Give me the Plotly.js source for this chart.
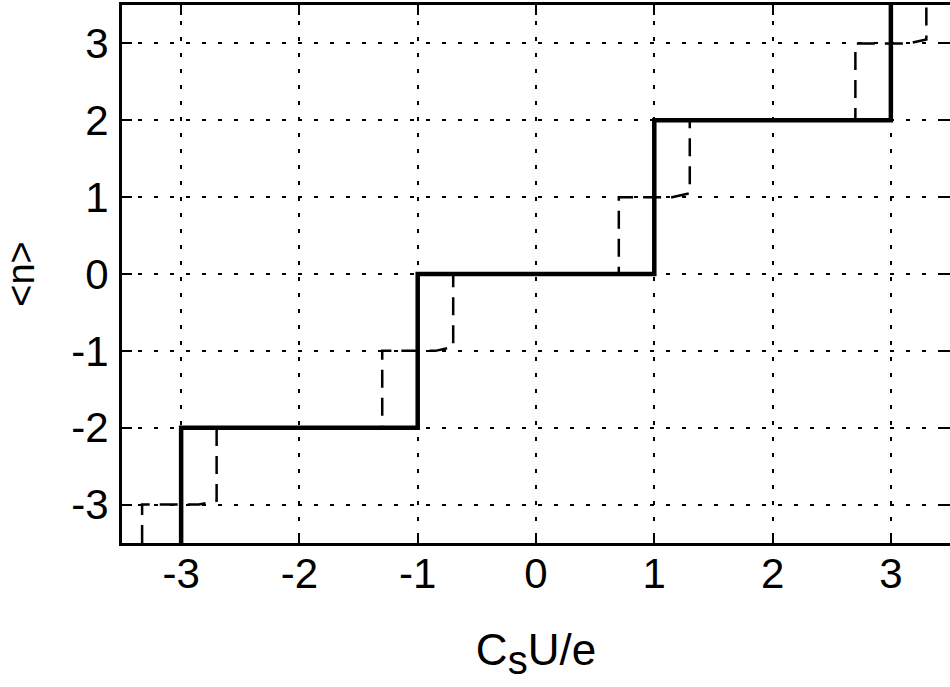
<!DOCTYPE html>
<html>
<head>
<meta charset="utf-8">
<script src="https://cdn.plot.ly/plotly-3.0.1.min.js"></script>
<style>html,body{margin:0;padding:0;background:#fff}#chart{width:950px;height:687px}</style>
</head>
<body>
<div id="chart"></div>
<script>
// Solid staircase (steps of 2 at odd values)
var solidX = [-3, -3, -1, -1, 1, 1, 3, 3];
var solidY = [-3.5, -2, -2, 0, 0, 2, 2, 3.5];
// Dashed staircase (steps of 1)
var dashedX = [-3.33, -3.33, -2.85, -2.7, -2.7, -1.3, -1.3, -0.85, -0.7, -0.7, 0.7, 0.7, 1.15, 1.3, 1.3, 2.7, 2.7, 3.15, 3.3, 3.3];
var dashedY = [-3.5, -3, -3, -2.95, -2, -2, -1, -1, -0.95, 0, 0, 1, 1, 1.05, 2, 2, 3, 3, 3.05, 3.5];
var tickVals = [-3, -2, -1, 0, 1, 2, 3];
var tickText = ['-3', '-2', '-1', '0', '1', '2', '3'];

var traces = [
  {x: dashedX, y: dashedY, mode: 'lines', line: {color: '#000', width: 2.5, dash: '18px,10px'}, hoverinfo: 'skip'},
  {x: solidX, y: solidY, mode: 'lines', line: {color: '#000', width: 4.5}, hoverinfo: 'skip'}
];

var axisCommon = {
  tickmode: 'array', tickvals: tickVals, ticktext: tickText,
  ticks: 'inside', ticklen: 10, tickwidth: 2, tickcolor: '#000',
  showline: true, linewidth: 3, linecolor: '#000', mirror: 'ticks',
  showgrid: true, gridcolor: '#000', gridwidth: 2, griddash: '4px,12px',
  zeroline: false, fixedrange: true,
  tickfont: {family: 'Liberation Sans, Arial, sans-serif', size: 42, color: '#000'}
};

var layout = {
  width: 950, height: 687,
  margin: {l: 122, r: 0, t: 5, b: 144},
  paper_bgcolor: '#fff', plot_bgcolor: '#fff',
  showlegend: false,
  font: {family: 'Liberation Sans, Arial, sans-serif', color: '#000'},
  xaxis: Object.assign({}, axisCommon, {
    range: [-3.5, 3.5],
    ticklabelstandoff: -8,
    title: {text: 'C<sub><span style="font-size:40px">s</span></sub>U/e', font: {size: 44, color: '#000'}, standoff: 38}
  }),
  yaxis: Object.assign({}, axisCommon, {
    range: [-3.5, 3.5],
    ticklabelstandoff: 2,
    title: {text: '&lt;n&gt;', font: {size: 38, color: '#000'}, standoff: 34}
  })
};

Plotly.newPlot('chart', traces, layout, {displayModeBar: false, staticPlot: true});
</script>
</body>
</html>
